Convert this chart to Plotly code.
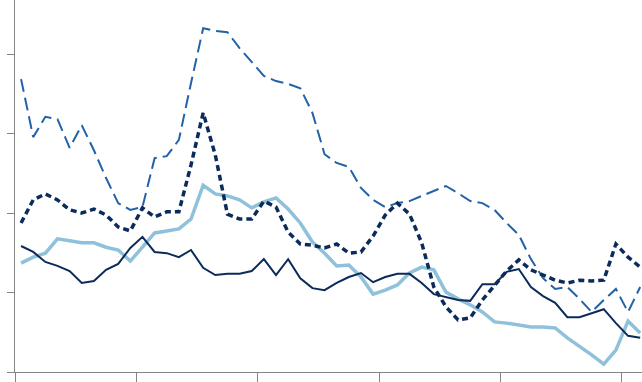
import plotly.graph_objects as go

periods = list(range(52))

series_long_dash = [7.37, 5.91, 6.42, 6.36, 5.64, 6.21, 5.58, 4.88, 4.25, 4.08,
                    4.15, 5.38, 5.43, 5.84, 7.27, 8.65, 8.58, 8.55, 8.15, 7.80,
                    7.45, 7.32, 7.25, 7.14, 6.52, 5.48, 5.26, 5.16, 4.63, 4.33,
                    4.15, 4.25, 4.30, 4.43, 4.55, 4.68, 4.50, 4.30, 4.25, 4.08,
                    3.75, 3.45, 2.84, 2.36, 2.09, 2.14, 1.84, 1.51, 1.81, 2.09,
                    1.51, 2.14]

series_short_dash = [3.75, 4.33, 4.48, 4.33, 4.08, 4.00, 4.10, 3.95, 3.65, 3.55,
                     4.13, 3.90, 4.03, 4.03, 5.21, 6.52, 5.46, 3.97, 3.85, 3.85,
                     4.30, 4.15, 3.52, 3.22, 3.19, 3.12, 3.22, 2.99, 3.02, 3.42,
                     3.95, 4.25, 3.97, 3.25, 2.14, 1.64, 1.31, 1.36, 1.81, 2.16,
                     2.54, 2.82, 2.57, 2.44, 2.31, 2.24, 2.31, 2.29, 2.31, 3.22,
                     2.89, 2.64]

series_light = [2.74, 2.89, 2.99, 3.35, 3.30, 3.25, 3.25, 3.14, 3.07, 2.79,
                3.14, 3.50, 3.55, 3.60, 3.85, 4.70, 4.48, 4.43, 4.33, 4.13,
                4.28, 4.38, 4.10, 3.75, 3.27, 2.99, 2.67, 2.69, 2.39, 1.96,
                2.06, 2.19, 2.49, 2.64, 2.57, 2.01, 1.84, 1.69, 1.51, 1.26,
                1.23, 1.18, 1.13, 1.13, 1.11, 0.86, 0.65, 0.43, 0.20, 0.55,
                1.28, 0.98]

series_solid = [3.17, 3.02, 2.77, 2.67, 2.54, 2.24, 2.29, 2.57, 2.72, 3.12,
                3.40, 3.02, 2.99, 2.89, 3.07, 2.62, 2.44, 2.47, 2.47, 2.54,
                2.84, 2.44, 2.84, 2.36, 2.11, 2.06, 2.24, 2.39, 2.49, 2.26,
                2.39, 2.47, 2.47, 2.24, 1.96, 1.89, 1.81, 1.79, 2.21, 2.21,
                2.52, 2.59, 2.14, 1.91, 1.74, 1.38, 1.38, 1.48, 1.58, 1.23,
                0.91, 0.86]

x_tick_positions = [-0.5, 9.5, 19.5, 29.5, 39.5, 49.5]
y_tick_positions = [0, 2, 4, 6, 8]

NAVY = "#0b2b5b"
MID = "#2162a8"
LIGHT = "#8fc1da"

fig = go.Figure()
fig.add_trace(go.Scatter(x=periods, y=series_long_dash, mode="lines",
                         line=dict(color=MID, width=2, dash="13px,6px")))
fig.add_trace(go.Scatter(x=periods, y=series_light, mode="lines",
                         line=dict(color=LIGHT, width=3.5)))
fig.add_trace(go.Scatter(x=periods, y=series_short_dash, mode="lines",
                         line=dict(color=NAVY, width=3.5, dash="6px,4px")))
fig.add_trace(go.Scatter(x=periods, y=series_solid, mode="lines",
                         line=dict(color=NAVY, width=2)))

fig.update_layout(
    width=642, height=382,
    margin=dict(l=15, r=0, t=0, b=10, autoexpand=False),
    paper_bgcolor="white", plot_bgcolor="white",
    showlegend=False,
    hovermode=False,
    xaxis=dict(range=[-0.5, 51.15], tickvals=x_tick_positions, showticklabels=False,
               ticks="outside", ticklen=10, tickcolor="#858585", tickwidth=1,
               showline=True, linecolor="#858585", linewidth=1,
               showgrid=False, zeroline=False, automargin=False),
    yaxis=dict(range=[0, 9.36], tickvals=y_tick_positions, showticklabels=False,
               ticks="outside", ticklen=7, tickcolor="#858585", tickwidth=1,
               showline=True, linecolor="#858585", linewidth=1,
               showgrid=False, zeroline=False, automargin=False),
)

fig.write_html("out.html",
               config={"displayModeBar": False, "staticPlot": True},
               post_script="document.body.style.margin='0';document.body.style.overflow='hidden';")
